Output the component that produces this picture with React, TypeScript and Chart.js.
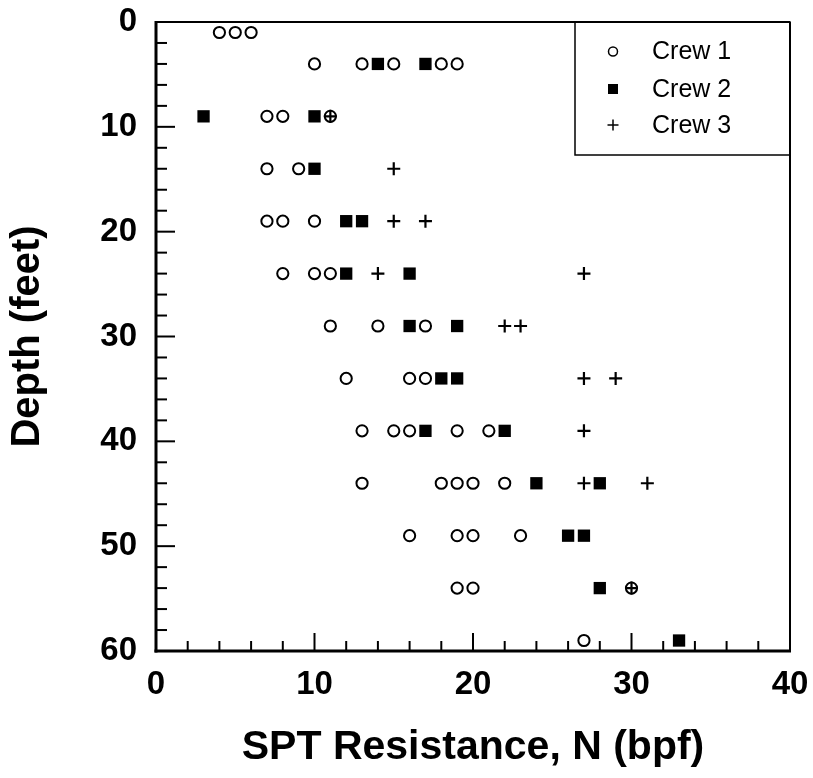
import React, { useEffect, useRef } from 'react';
import { Chart, registerables } from 'chart.js';

Chart.register(...registerables);

// SPT resistance N (bpf) and depth (feet) for each crew
const crew1N = [4, 5, 6, 10, 13, 15, 18, 19, 7, 8, 11, 7, 9, 7, 8, 10, 8, 10, 11, 11, 14, 17, 12, 16, 17, 13, 15, 16, 19, 21, 13, 18, 19, 20, 22, 16, 19, 20, 23, 19, 20, 30, 27];
const crew1Depth = [1, 1, 1, 4, 4, 4, 4, 4, 9, 9, 9, 14, 14, 19, 19, 19, 24, 24, 24, 29, 29, 29, 34, 34, 34, 39, 39, 39, 39, 39, 44, 44, 44, 44, 44, 49, 49, 49, 49, 54, 54, 54, 59];

const crew2N = [14, 17, 3, 10, 10, 12, 13, 12, 16, 16, 19, 18, 19, 17, 22, 24, 28, 26, 27, 28, 33];
const crew2Depth = [4, 4, 9, 9, 14, 19, 19, 24, 24, 29, 29, 34, 34, 39, 39, 44, 44, 49, 49, 54, 59];

const crew3N = [11, 15, 15, 17, 14, 27, 22, 23, 27, 29, 27, 27, 31, 30];
const crew3Depth = [9, 14, 19, 19, 24, 24, 29, 29, 34, 34, 39, 44, 44, 54];

const seriesLabels = ['Crew 1', 'Crew 2', 'Crew 3'];
const xMin = 0, xMax = 40, xStep = 10, xMinorStep = 2;
const yMin = 0, yMax = 60, yStep = 10, yMinorStep = 2;

const xTitle = 'SPT Resistance, N (bpf)';
const yTitle = 'Depth (feet)';

const FONT = '"Liberation Sans", Arial, Helvetica, sans-serif';

const toPoints = (xs: number[], ys: number[]) => xs.map((v, i) => ({ x: v, y: ys[i] }));

const framePlugin = {
  id: 'frameTicksLegend',
  afterDraw(chart: any) {
    const { ctx, chartArea, scales } = chart;
    const { left, right, top, bottom } = chartArea;
    const x = scales.x;
    const y = scales.y;
    ctx.save();
    ctx.strokeStyle = '#000';
    ctx.fillStyle = '#000';
    ctx.lineCap = 'butt';
    const line = (x1: number, y1: number, x2: number, y2: number) => {
      ctx.beginPath();
      ctx.moveTo(x1, y1);
      ctx.lineTo(x2, y2);
      ctx.stroke();
    };
    // inward ticks
    ctx.lineWidth = 2;
    for (let v = yMin + yMinorStep; v < yMax; v += yMinorStep) {
      const py = y.getPixelForValue(v);
      const len = v % yStep === 0 ? 19 : 11;
      line(left, py, left + len, py);
    }
    for (let v = xMin + xMinorStep; v < xMax; v += xMinorStep) {
      const px = x.getPixelForValue(v);
      const len = v % xStep === 0 ? 18 : 10;
      line(px, bottom, px, bottom - len);
    }
    // frame
    ctx.lineWidth = 2;
    line(left, top, right, top);
    line(right, top, right, bottom);
    ctx.lineWidth = 3;
    line(left, top - 1, left, bottom + 1.5);
    line(left - 1.5, bottom, right + 1, bottom);

    // legend box
    const boxW = 215;
    const boxH = 133;
    const bx = right - boxW;
    const by = top;
    ctx.lineWidth = 1.5;
    ctx.strokeRect(bx, by, boxW, boxH);
    ctx.font = `25px ${FONT}`;
    ctx.textBaseline = 'middle';
    ctx.textAlign = 'left';
    const rows = [29.5, 67, 103];
    const mx = bx + 38;
    const tx = bx + 77;
    seriesLabels.forEach((label, i) => {
      const cy = by + rows[i];
      ctx.lineWidth = 1.5;
      if (i === 0) {
        ctx.beginPath();
        ctx.arc(mx, cy, 4.5, 0, Math.PI * 2);
        ctx.stroke();
      } else if (i === 1) {
        ctx.fillRect(mx - 5, cy - 5, 10, 10);
      } else {
        line(mx - 5.5, cy, mx + 5.5, cy);
        line(mx, cy - 5.5, mx, cy + 5.5);
      }
      ctx.fillText(label, tx, cy + 1);
    });
    ctx.restore();
  },
};

export default function App() {
  const canvasRef = useRef<HTMLCanvasElement | null>(null);

  useEffect(() => {
    const canvas = canvasRef.current;
    if (!canvas) return;
    const chart = new Chart(canvas, {
      type: 'scatter',
      data: {
        datasets: [
          {
            label: seriesLabels[0],
            data: toPoints(crew1N, crew1Depth),
            pointStyle: 'circle',
            pointRadius: 5.6,
            pointBorderWidth: 2,
            borderColor: '#000',
            backgroundColor: 'rgba(0,0,0,0)',
          },
          {
            label: seriesLabels[1],
            data: toPoints(crew2N, crew2Depth),
            pointStyle: 'rect',
            pointRadius: 8.7,
            pointBorderWidth: 0,
            borderColor: '#000',
            backgroundColor: '#000',
          },
          {
            label: seriesLabels[2],
            data: toPoints(crew3N, crew3Depth),
            pointStyle: 'cross',
            pointRadius: 6.5,
            pointBorderWidth: 2.2,
            borderColor: '#000',
            backgroundColor: '#000',
          },
        ],
      },
      options: {
        animation: false,
        responsive: false,
        events: [],
        layout: { padding: { top: 22, right: 23, left: 0, bottom: 0 } },
        plugins: {
          legend: { display: false },
          tooltip: { enabled: false },
        },
        scales: {
          x: {
            type: 'linear',
            min: xMin,
            max: xMax,
            grid: { display: false, drawTicks: false },
            border: { display: false },
            ticks: {
              stepSize: xStep,
              padding: 14,
              color: '#000',
              font: { family: FONT, size: 33, weight: 'bold' },
              maxRotation: 0,
            },
            title: {
              display: true,
              text: xTitle,
              color: '#000',
              font: { family: FONT, size: 41, weight: 'bold' },
              padding: { top: 0, bottom: 6 },
            },
            afterFit: (scale: any) => {
              scale.height = 127;
              scale.paddingLeft = 0;
              scale.paddingRight = 0;
              scale.paddingTop = 0;
              scale.paddingBottom = 0;
            },
          },
          y: {
            type: 'linear',
            reverse: true,
            min: yMin,
            max: yMax,
            grid: { display: false, drawTicks: false },
            border: { display: false },
            ticks: {
              stepSize: yStep,
              padding: 19,
              color: '#000',
              font: { family: FONT, size: 33, weight: 'bold' },
            },
            title: {
              display: true,
              text: yTitle,
              color: '#000',
              font: { family: FONT, size: 40, weight: 'bold' },
              padding: { top: 3.5, bottom: 0 },
            },
            afterFit: (scale: any) => {
              scale.width = 156;
              scale.paddingLeft = 0;
              scale.paddingRight = 0;
              scale.paddingTop = 0;
              scale.paddingBottom = 0;
            },
          },
        },
      },
      plugins: [framePlugin],
    });
    return () => chart.destroy();
  }, []);

  return (
    <div style={{ position: 'absolute', left: 0, top: 0, width: 813, height: 778, background: '#fff' }}>
      <canvas ref={canvasRef} width={813} height={778} style={{ display: 'block' }} />
    </div>
  );
}
